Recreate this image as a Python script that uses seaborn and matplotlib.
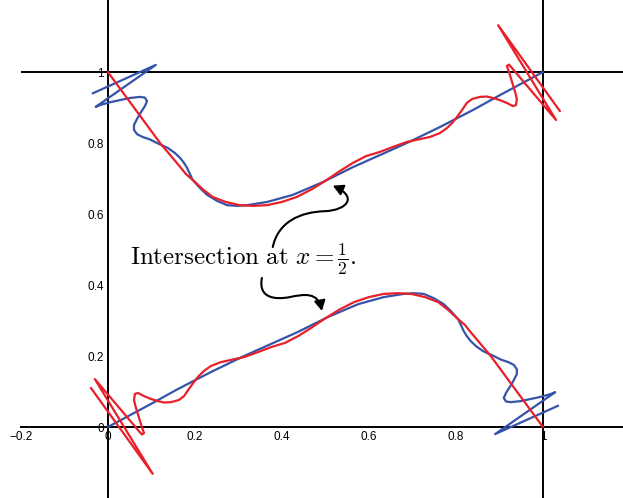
import numpy as np
import pandas as pd
import seaborn as sns
import matplotlib.pyplot as plt
from matplotlib.path import Path
from matplotlib.patches import FancyArrowPatch

# curves (data units)
top_blue_x = [-0.035, 0.110, -0.028, -0.018, 0.005, 0.028, 0.051, 0.074, 0.085, 0.090, 0.085,
              0.076, 0.067, 0.060, 0.060, 0.067, 0.080, 0.097, 0.113, 0.138, 0.154, 0.166,
              0.175, 0.182, 0.195, 0.212, 0.228, 0.251, 0.274, 0.297, 0.320, 0.366, 0.425,
              0.494, 0.563, 0.625, 0.687, 0.763, 0.839, 0.901, 1.000]
top_blue_y = [0.940, 1.020, 0.902, 0.907, 0.915, 0.921, 0.927, 0.930, 0.928, 0.918, 0.904,
              0.887, 0.868, 0.851, 0.837, 0.825, 0.817, 0.810, 0.800, 0.786, 0.772, 0.758,
              0.744, 0.730, 0.696, 0.673, 0.654, 0.637, 0.625, 0.623, 0.625, 0.634, 0.654,
              0.690, 0.732, 0.766, 0.800, 0.845, 0.893, 0.935, 1.000]

top_red_x = [0.000, 0.120, 0.166, 0.179, 0.195, 0.218, 0.241, 0.271, 0.303, 0.333, 0.366,
             0.400, 0.434, 0.469, 0.503, 0.533, 0.563, 0.593, 0.625, 0.655, 0.687, 0.717,
             0.740, 0.763, 0.779, 0.791, 0.802, 0.814, 0.825, 0.837, 0.855, 0.871, 0.885,
             0.901, 0.917, 0.931, 0.938, 0.940, 0.936, 0.929, 0.922, 0.917, 0.922, 0.929,
             1.030, 0.897, 1.039]
top_red_y = [1.000, 0.800, 0.733, 0.713, 0.696, 0.670, 0.648, 0.634, 0.625, 0.623, 0.625,
             0.634, 0.648, 0.670, 0.696, 0.721, 0.744, 0.763, 0.775, 0.789, 0.803, 0.811,
             0.817, 0.828, 0.842, 0.856, 0.873, 0.893, 0.913, 0.924, 0.930, 0.931, 0.927,
             0.921, 0.913, 0.904, 0.907, 0.924, 0.944, 0.972, 1.000, 1.017, 1.021, 1.011,
             0.865, 1.132, 0.890]

bot_blue_x = [1.035, 0.890, 1.028, 1.018, 0.995, 0.972, 0.949, 0.926, 0.915, 0.910, 0.915,
              0.924, 0.933, 0.940, 0.940, 0.933, 0.920, 0.903, 0.887, 0.862, 0.846, 0.834,
              0.825, 0.818, 0.805, 0.788, 0.772, 0.749, 0.726, 0.703, 0.680, 0.634, 0.575,
              0.506, 0.437, 0.375, 0.313, 0.237, 0.161, 0.099, 0.000]
bot_blue_y = [0.060, -0.020, 0.098, 0.093, 0.085, 0.079, 0.073, 0.070, 0.072, 0.082, 0.096,
              0.113, 0.132, 0.149, 0.163, 0.175, 0.183, 0.190, 0.200, 0.214, 0.228, 0.242,
              0.256, 0.270, 0.304, 0.327, 0.346, 0.363, 0.375, 0.377, 0.375, 0.366, 0.346,
              0.310, 0.268, 0.234, 0.200, 0.155, 0.107, 0.065, 0.000]

bot_red_x = [1.000, 0.880, 0.834, 0.821, 0.805, 0.782, 0.759, 0.729, 0.697, 0.667, 0.634,
             0.600, 0.566, 0.531, 0.497, 0.467, 0.437, 0.407, 0.375, 0.345, 0.313, 0.283,
             0.260, 0.237, 0.221, 0.209, 0.198, 0.186, 0.175, 0.163, 0.145, 0.129, 0.115,
             0.099, 0.083, 0.069, 0.062, 0.060, 0.064, 0.071, 0.078, 0.083, 0.078, 0.071,
             -0.030, 0.103, -0.039]
bot_red_y = [0.000, 0.200, 0.267, 0.287, 0.304, 0.330, 0.352, 0.366, 0.375, 0.377, 0.375,
             0.366, 0.352, 0.330, 0.304, 0.279, 0.256, 0.237, 0.225, 0.211, 0.197, 0.189,
             0.183, 0.172, 0.158, 0.144, 0.127, 0.107, 0.087, 0.076, 0.070, 0.069, 0.073,
             0.079, 0.087, 0.096, 0.093, 0.076, 0.056, 0.028, 0.000, -0.017, -0.021, -0.011,
             0.135, -0.132, 0.110]

x_ticks = [-0.2, 0, 0.2, 0.4, 0.6, 0.8, 1]
x_tick_labels = ['\u22120.2', '0', '0.2', '0.4', '0.6', '0.8', '1']
y_ticks = [0, 0.2, 0.4, 0.6, 0.8, 1]
y_tick_labels = ['0', '0.2', '0.4', '0.6', '0.8', '1']

BLUE = '#3553a8'
RED = '#e8202a'

sns.set_theme(style='white')
plt.rcParams['font.family'] = ['Liberation Sans', 'DejaVu Sans']
plt.rcParams['mathtext.fontset'] = 'cm'

fig = plt.figure(figsize=(6.23, 4.98), dpi=100)
ax = fig.add_axes([0, 0, 1, 1])

curves = [(top_blue_x, top_blue_y, BLUE), (top_red_x, top_red_y, RED),
          (bot_blue_x, bot_blue_y, BLUE), (bot_red_x, bot_red_y, RED)]
for xs, ys, col in curves:
    sns.lineplot(x=xs, y=ys, sort=False, estimator=None, color=col, lw=1.6,
                 ax=ax, zorder=3, solid_joinstyle='round', solid_capstyle='round')

ax.set_xlim(-0.248, 1.184)
ax.set_ylim(-0.2, 1.203)

# axes through the origin plus the x=1 / y=1 lines
for s in ['top', 'right']:
    ax.spines[s].set_visible(False)
ax.spines['left'].set_position(('data', 0))
ax.spines['bottom'].set_position(('data', 0))
ax.spines['bottom'].set_bounds(-0.2, 1.184)
for s in ['left', 'bottom']:
    ax.spines[s].set_color('black')
    ax.spines[s].set_linewidth(1.4)
ax.axvline(1, color='black', lw=1.4, zorder=2)
ax.hlines(1, -0.2, 1.184, color='black', lw=1.4, zorder=2)

ax.set_xticks(x_ticks)
ax.set_xticklabels(x_tick_labels)
ax.set_yticks(y_ticks)
ax.set_yticklabels(y_tick_labels)
ax.tick_params(length=0, pad=3, labelsize=8.5, colors='black')

ax.text(0.311, 0.472, r'$\mathrm{Intersection\ at\ }x=\frac{1}{2}.$',
        fontsize=18, ha='center', va='center', color='black')

arrow_paths = [
    [(0.379, 0.507), (0.391, 0.577), (0.441, 0.606), (0.499, 0.608),
     (0.550, 0.611), (0.575, 0.648), (0.517, 0.680)],
    [(0.354, 0.420), (0.345, 0.363), (0.384, 0.358), (0.418, 0.366),
     (0.453, 0.375), (0.483, 0.380), (0.492, 0.327)],
]
codes = [Path.MOVETO] + [Path.CURVE4] * 6
for verts in arrow_paths:
    arr = FancyArrowPatch(path=Path(verts, codes),
                          arrowstyle='-|>,head_length=0.55,head_width=0.3',
                          mutation_scale=11, color='black', lw=1.5, zorder=4,
                          shrinkA=0, shrinkB=0)
    ax.add_patch(arr)

fig.savefig('out.png', dpi=100)
